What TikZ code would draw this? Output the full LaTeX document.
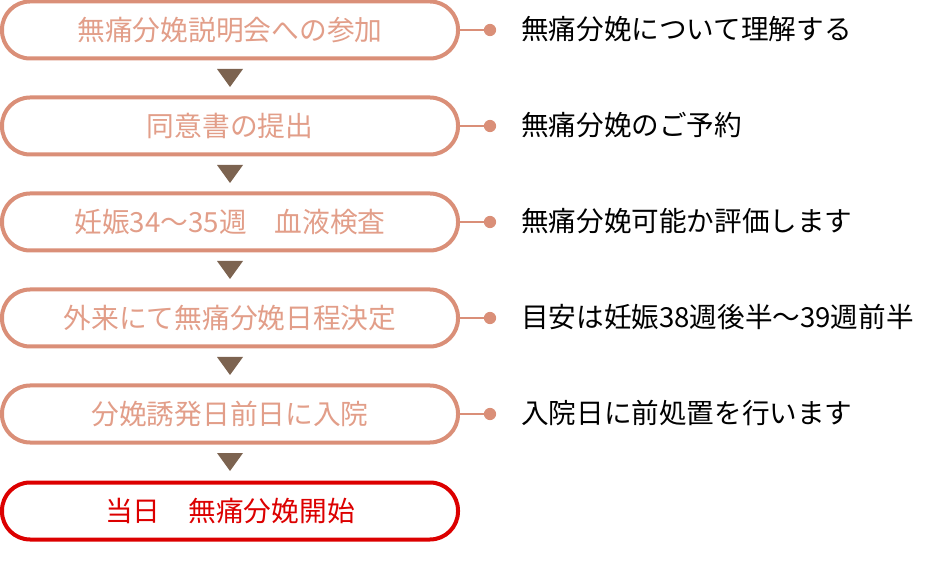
\documentclass[tikz,border=0pt]{standalone}
\usepackage{fontspec}
\usetikzlibrary{calc}
\newfontfamily\cjk{Noto Sans CJK JP}
\definecolor{boxline}{HTML}{DA8F78}
\definecolor{boxtext}{HTML}{E29E89}
\definecolor{arrowc}{HTML}{7C6350}
\definecolor{redc}{HTML}{DC0000}
\begin{document}
\begin{tikzpicture}[x=0.75pt,y=-0.75pt,
  stepbox/.style={draw=boxline,line width=3pt,rounded corners=21pt,minimum width=342pt,minimum height=42.75pt,inner sep=0pt,font=\cjk\fontsize{20.8}{24}\selectfont,text=boxtext},
  lastbox/.style={stepbox,draw=redc,text=redc},
  note/.style={anchor=west,inner sep=0pt,font=\cjk\fontsize{20.7}{24}\selectfont,text=black},
  tri/.style={fill=arrowc},
  link/.style={draw=boxline,line width=2.2pt},
  dot/.style={fill=boxline}]
\useasboundingbox (0,0) rectangle (928,566);
\node[stepbox] (b1) at (230,30) {無痛分娩説明会への参加};
\node[stepbox] (b2) at (230,126) {同意書の提出};
\node[stepbox] (b3) at (230,222) {妊娠34〜35週\hspace{1em}血液検査};
\node[stepbox] (b4) at (230,318) {外来にて無痛分娩日程決定};
\node[stepbox] (b5) at (230,414) {分娩誘発日前日に入院};
\node[lastbox] (b6) at (230,511) {当日\hspace{1em}無痛分娩開始};
\foreach \i/\t in {1/無痛分娩について理解する,2/無痛分娩のご予約,3/無痛分娩可能か評価します,4/目安は妊娠38週後半〜39週前半,5/入院日に前処置を行います}{
  \coordinate (d\i) at ($(b\i.east)+(30,0)$);
  \draw[link] (b\i.east) -- (d\i);
  \fill[dot] (d\i) circle (4.6pt);
  \node[note] (n\i) at ($(b\i.east)+(61,-1)$) {\t};
}
\foreach \y in {69,165,261,357,453}{
  \fill[tri] (217,\y) -- (243,\y) -- (230,\y+18) -- cycle;
}
\end{tikzpicture}
\end{document}
